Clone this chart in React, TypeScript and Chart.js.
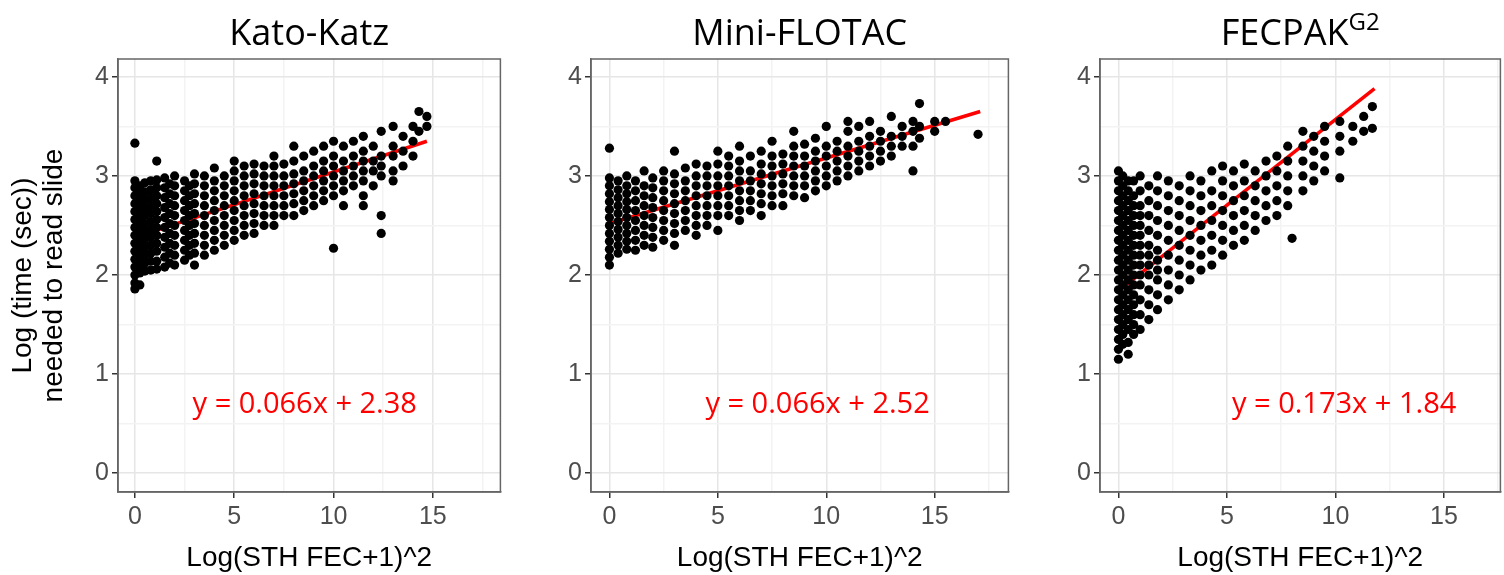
import React, { useEffect, useRef } from 'react';
import { Chart, registerables } from 'chart.js';

Chart.register(...registerables);

type Col = [number, number[]];

// scatter columns: [x, list of y values]
const katoKatzCols: Col[] = [
  [0, [1.86, 1.92, 2.0, 2.08, 2.16, 2.24, 2.32, 2.4, 2.48, 2.56, 2.64, 2.72, 2.8, 2.88, 2.95, 3.33]],
  [0.25, [1.9, 2.02, 2.1, 2.18, 2.26, 2.34, 2.42, 2.5, 2.58, 2.66, 2.74, 2.82, 2.9]],
  [0.5, [2.04, 2.12, 2.2, 2.28, 2.36, 2.44, 2.52, 2.6, 2.68, 2.76, 2.84, 2.93]],
  [0.8, [2.05, 2.14, 2.22, 2.3, 2.38, 2.46, 2.54, 2.62, 2.7, 2.78, 2.86, 2.95]],
  [1.1, [2.06, 2.14, 2.24, 2.32, 2.4, 2.48, 2.56, 2.64, 2.72, 2.8, 2.88, 2.96, 3.15]],
  [1.5, [2.08, 2.18, 2.28, 2.38, 2.48, 2.58, 2.68, 2.78, 2.88, 2.98]],
  [1.75, [2.12, 2.22, 2.32, 2.42, 2.52, 2.62, 2.72, 2.82, 2.92]],
  [2.0, [2.1, 2.2, 2.3, 2.4, 2.5, 2.6, 2.7, 2.8, 2.9, 3.0]],
  [2.5, [2.15, 2.25, 2.35, 2.45, 2.55, 2.65, 2.75, 2.85, 2.95]],
  [2.75, [2.2, 2.3, 2.4, 2.5, 2.6, 2.7, 2.8, 2.9]],
  [3.0, [2.1, 2.22, 2.32, 2.42, 2.52, 2.62, 2.72, 2.82, 2.92, 3.02]],
  [3.5, [2.2, 2.3, 2.4, 2.5, 2.6, 2.7, 2.8, 2.9, 3.0]],
  [4.0, [2.25, 2.35, 2.45, 2.55, 2.65, 2.75, 2.85, 2.95, 3.08]],
  [4.5, [2.3, 2.4, 2.5, 2.6, 2.7, 2.8, 2.9, 3.0]],
  [5.0, [2.35, 2.45, 2.55, 2.65, 2.75, 2.85, 2.95, 3.05, 3.15]],
  [5.5, [2.4, 2.5, 2.6, 2.7, 2.8, 2.9, 3.0, 3.1]],
  [6.0, [2.42, 2.52, 2.62, 2.72, 2.82, 2.92, 3.02, 3.12]],
  [6.5, [2.5, 2.6, 2.7, 2.8, 2.9, 3.0, 3.1]],
  [7.0, [2.5, 2.6, 2.7, 2.8, 2.9, 3.0, 3.1, 3.2]],
  [7.5, [2.6, 2.7, 2.8, 2.9, 3.0, 3.12]],
  [8.0, [2.6, 2.72, 2.82, 2.92, 3.02, 3.15, 3.3]],
  [8.5, [2.65, 2.75, 2.85, 2.95, 3.05, 3.2]],
  [9.0, [2.7, 2.8, 2.9, 3.0, 3.1, 3.25]],
  [9.5, [2.75, 2.85, 2.95, 3.05, 3.15, 3.3]],
  [10.0, [2.27, 2.8, 2.9, 3.0, 3.1, 3.2, 3.35]],
  [10.5, [2.7, 2.85, 2.95, 3.05, 3.15, 3.3]],
  [11.0, [2.9, 3.0, 3.1, 3.2, 3.35]],
  [11.5, [2.7, 2.8, 2.95, 3.05, 3.15, 3.25, 3.4]],
  [12.0, [2.9, 3.05, 3.15, 3.3]],
  [12.4, [2.42, 2.6, 3.0, 3.1, 3.2, 3.45]],
  [13.0, [2.95, 3.05, 3.2, 3.3, 3.5]],
  [13.5, [3.1, 3.25, 3.4]],
  [14.0, [3.2, 3.35, 3.5]],
  [14.3, [3.45, 3.65]],
  [14.7, [3.5, 3.6]],
];

const miniFlotacCols: Col[] = [
  [0, [2.1, 2.18, 2.26, 2.34, 2.42, 2.5, 2.58, 2.66, 2.74, 2.82, 2.9, 2.98, 3.28]],
  [0.4, [2.22, 2.3, 2.38, 2.46, 2.54, 2.62, 2.7, 2.78, 2.86, 2.95]],
  [0.8, [2.26, 2.34, 2.42, 2.5, 2.58, 2.66, 2.74, 2.82, 2.9, 3.0]],
  [1.2, [2.25, 2.35, 2.45, 2.55, 2.65, 2.75, 2.85, 2.95]],
  [1.6, [2.3, 2.4, 2.5, 2.6, 2.7, 2.8, 2.9, 3.05]],
  [2.0, [2.28, 2.38, 2.48, 2.58, 2.68, 2.78, 2.88, 2.98]],
  [2.5, [2.35, 2.45, 2.55, 2.65, 2.75, 2.85, 2.95, 3.05]],
  [3.0, [2.3, 2.42, 2.52, 2.62, 2.72, 2.82, 2.92, 3.02, 3.25]],
  [3.5, [2.45, 2.55, 2.65, 2.75, 2.85, 2.95, 3.08]],
  [4.0, [2.4, 2.5, 2.6, 2.7, 2.8, 2.9, 3.0, 3.12]],
  [4.5, [2.5, 2.6, 2.7, 2.8, 2.9, 3.0, 3.1]],
  [5.0, [2.45, 2.6, 2.7, 2.8, 2.9, 3.0, 3.12, 3.25]],
  [5.5, [2.6, 2.7, 2.8, 2.9, 3.0, 3.1, 3.2]],
  [6.0, [2.55, 2.65, 2.75, 2.85, 2.95, 3.05, 3.15, 3.3]],
  [6.5, [2.65, 2.75, 2.85, 2.95, 3.05, 3.2]],
  [7.0, [2.6, 2.72, 2.82, 2.92, 3.02, 3.12, 3.25]],
  [7.5, [2.7, 2.8, 2.9, 3.0, 3.1, 3.2, 3.35]],
  [8.0, [2.7, 2.82, 2.92, 3.02, 3.12, 3.22]],
  [8.5, [2.8, 2.9, 3.0, 3.1, 3.2, 3.3, 3.45]],
  [9.0, [2.78, 2.9, 3.0, 3.1, 3.2, 3.32]],
  [9.5, [2.85, 2.95, 3.05, 3.15, 3.25, 3.38]],
  [10.0, [2.9, 3.0, 3.1, 3.2, 3.3, 3.5]],
  [10.5, [2.95, 3.05, 3.15, 3.25, 3.35]],
  [11.0, [3.0, 3.1, 3.2, 3.3, 3.45, 3.55]],
  [11.5, [3.05, 3.15, 3.25, 3.35, 3.5]],
  [12.0, [3.1, 3.2, 3.3, 3.4, 3.55]],
  [12.5, [3.15, 3.25, 3.35, 3.45]],
  [13.0, [3.2, 3.3, 3.4, 3.6]],
  [13.5, [3.3, 3.4, 3.5]],
  [14.0, [3.05, 3.3, 3.45, 3.55]],
  [14.3, [3.38, 3.5, 3.73]],
  [15.0, [3.45, 3.55]],
  [15.5, [3.55]],
  [17.0, [3.42]],
];

const fecpakCols: Col[] = [
  [0, [1.15, 1.25, 1.35, 1.45, 1.55, 1.65, 1.75, 1.85, 1.95, 2.05, 2.15, 2.25, 2.35, 2.45, 2.55, 2.65, 2.75, 2.85, 2.95, 3.05]],
  [0.2, [1.3, 1.4, 1.5, 1.6, 1.7, 1.8, 1.9, 2.0, 2.1, 2.2, 2.3, 2.4, 2.5, 2.6, 2.7, 2.8, 2.9, 3.0]],
  [0.45, [1.2, 1.32, 1.45, 1.55, 1.65, 1.75, 1.85, 1.95, 2.05, 2.15, 2.25, 2.35, 2.45, 2.55, 2.65, 2.75, 2.85, 2.95]],
  [0.7, [1.4, 1.5, 1.6, 1.7, 1.8, 1.9, 2.0, 2.1, 2.2, 2.3, 2.4, 2.5, 2.6, 2.7, 2.8, 2.95]],
  [1.0, [1.45, 1.6, 1.75, 1.9, 2.0, 2.1, 2.2, 2.3, 2.4, 2.5, 2.6, 2.7, 2.85, 3.0]],
  [1.4, [1.55, 1.7, 1.85, 2.0, 2.1, 2.2, 2.3, 2.45, 2.6, 2.75, 2.9]],
  [1.8, [1.65, 1.8, 1.95, 2.05, 2.15, 2.25, 2.4, 2.55, 2.7, 2.85, 3.0]],
  [2.3, [1.75, 1.9, 2.05, 2.2, 2.35, 2.5, 2.65, 2.8, 2.95]],
  [2.8, [1.85, 2.0, 2.15, 2.3, 2.45, 2.6, 2.75, 2.9]],
  [3.3, [1.95, 2.1, 2.25, 2.4, 2.55, 2.7, 2.85, 3.0]],
  [3.8, [2.05, 2.2, 2.35, 2.5, 2.65, 2.8, 2.95]],
  [4.3, [2.1, 2.25, 2.4, 2.55, 2.7, 2.85, 3.05]],
  [4.8, [2.2, 2.35, 2.5, 2.65, 2.8, 2.95, 3.1]],
  [5.3, [2.3, 2.45, 2.6, 2.75, 2.9, 3.05]],
  [5.8, [2.35, 2.5, 2.65, 2.8, 2.95, 3.12]],
  [6.3, [2.45, 2.6, 2.75, 2.9, 3.05]],
  [6.8, [2.55, 2.7, 2.85, 3.0, 3.15]],
  [7.3, [2.6, 2.75, 2.9, 3.05, 3.2]],
  [7.8, [2.7, 2.85, 3.0, 3.15, 3.3]],
  [8.0, [2.37]],
  [8.5, [2.85, 3.0, 3.15, 3.3, 3.45]],
  [9.0, [2.95, 3.1, 3.25, 3.4]],
  [9.5, [3.05, 3.2, 3.35, 3.5]],
  [10.2, [2.98, 3.25, 3.4, 3.55]],
  [10.8, [3.35, 3.5]],
  [11.3, [3.45, 3.6]],
  [11.7, [3.48, 3.7]],
];

// fitted lines: [x, y] end points
const katoKatzFit = [[0, 2.38], [14.7, 3.35]];
const miniFlotacFit = [[0, 2.52], [17.1, 3.65]];
const fecpakFit = [[0, 1.84], [11.8, 3.88]];

const xTicks = [0, 5, 10, 15];
const yTicks = [0, 1, 2, 3, 4];

type PanelProps = {
  title: string;
  sup?: string;
  cols: Col[];
  fit: number[][];
  equation: string;
  eqX: number;
  left: number;
  width: number;
  yWidth: number;
  xMax: number;
  showYTitle: boolean;
};

const TICK_FONT = { family: 'Liberation Sans', size: 25 };

function Panel(p: PanelProps) {
  const ref = useRef<HTMLCanvasElement | null>(null);
  useEffect(() => {
    const ctx = ref.current?.getContext('2d');
    if (!ctx) return;
    const pts = p.cols.flatMap(([x, ys]) => ys.map((y) => ({ x, y })));
    const grid = (major: number[]) => ({
      color: (c: any) => (major.includes(c.tick?.value) ? '#e6e6e6' : '#f3f3f3'),
      lineWidth: 1.5,
      tickLength: 6,
      tickColor: (c: any) => (major.includes(c.tick?.value) ? '#333' : 'rgba(0,0,0,0)'),
      drawTicks: true,
    });
    const chart = new Chart(ctx, {
      type: 'scatter',
      data: {
        datasets: [
          { data: pts, backgroundColor: '#000', borderColor: '#000', pointRadius: 4.6, borderWidth: 0 },
          {
            type: 'line',
            data: p.fit.map(([x, y]) => ({ x, y })),
            borderColor: '#ff0000',
            borderWidth: 3.5,
            pointRadius: 0,
          } as any,
        ],
      },
      options: {
        animation: false,
        responsive: false,
        layout: { padding: { top: 59, right: 1 } },
        plugins: { legend: { display: false }, tooltip: { enabled: false } },
        scales: {
          x: {
            type: 'linear',
            min: -0.85,
            max: p.xMax,
            afterBuildTicks: (s: any) => {
              s.ticks = [0, 2.5, 5, 7.5, 10, 12.5, 15, 17.5].filter((v) => v <= p.xMax).map((value) => ({ value }));
            },
            afterFit: (s: any) => { s.height = 83; },
            ticks: {
              font: TICK_FONT,
              color: '#4d4d4d',
              padding: 4,
              callback: (v: any) => (xTicks.includes(v) ? String(v) : ''),
              maxRotation: 0,
            },
            grid: grid(xTicks),
            border: { color: '#666', width: 1.5 },
            title: { display: true, text: 'Log(STH FEC+1)^2', font: { family: 'Liberation Sans', size: 28 }, color: '#000', padding: { top: -4, bottom: 0 } },
          },
          y: {
            type: 'linear',
            min: -0.19,
            max: 4.18,
            afterBuildTicks: (s: any) => {
              s.ticks = [0, 0.5, 1, 1.5, 2, 2.5, 3, 3.5, 4].map((value) => ({ value }));
            },
            afterFit: (s: any) => { s.width = p.yWidth; },
            ticks: {
              font: TICK_FONT,
              color: '#4d4d4d',
              padding: 3,
              callback: (v: any) => (yTicks.includes(v) ? String(v) : ''),
            },
            grid: grid(yTicks),
            border: { color: '#666', width: 1.5 },
            title: {
              display: p.showYTitle,
              text: ['Log (time (sec))', 'needed to read slide'],
              font: { family: 'Liberation Sans', size: 28, lineHeight: 1.1 },
              color: '#000',
              padding: { top: 8, bottom: 0 },
            },
          },
        },
      },
      plugins: [
        {
          id: 'panelText',
          afterDraw: (c: any) => {
            const g = c.ctx;
            const a = c.chartArea;
            g.save();
            g.strokeStyle = '#666';
            g.lineWidth = 1.5;
            g.strokeRect(a.left, a.top, a.right - a.left, a.bottom - a.top);
            g.fillStyle = '#000';
            g.textBaseline = 'alphabetic';
            g.font = '36px "Open Sans"';
            const tw = g.measureText(p.title).width;
            g.font = '24px "Open Sans"';
            const sw = p.sup ? g.measureText(p.sup).width : 0;
            const x0 = (a.left + a.right) / 2 - (tw + sw) / 2;
            g.textAlign = 'left';
            g.font = '36px "Open Sans"';
            g.fillText(p.title, x0, 45);
            if (p.sup) {
              g.font = '24px "Open Sans"';
              g.fillText(p.sup, x0 + tw, 30);
            }
            g.fillStyle = '#ff0000';
            g.font = '29px "Open Sans"';
            g.textAlign = 'center';
            g.textBaseline = 'middle';
            g.fillText(p.equation, c.scales.x.getPixelForValue(p.eqX), c.scales.y.getPixelForValue(0.69));
            g.restore();
          },
        },
      ],
    } as any);
    return () => chart.destroy();
  }, []);
  return (
    <canvas
      ref={ref}
      width={p.width}
      height={575}
      style={{ position: 'absolute', left: p.left, top: 0, width: p.width, height: 575 }}
    />
  );
}

export default function App() {
  return (
    <div style={{ position: 'absolute', left: 0, top: 0, width: 1504, height: 575, background: '#fff', overflow: 'hidden' }}>
      <Panel title="Kato-Katz" cols={katoKatzCols} fit={katoKatzFit} equation="y = 0.066x + 2.38" eqX={8.55}
        left={0} width={505} yWidth={118} xMax={18.4} showYTitle />
      <Panel title="Mini-FLOTAC" cols={miniFlotacCols} fit={miniFlotacFit} equation="y = 0.066x + 2.52" eqX={9.6}
        left={520} width={493} yWidth={71} xMax={18.4} showYTitle={false} />
      <Panel title="FECPAK" sup="G2" cols={fecpakCols} fit={fecpakFit} equation="y = 0.173x + 1.84" eqX={10.4}
        left={1030} width={475} yWidth={70} xMax={17.6} showYTitle={false} />
    </div>
  );
}
